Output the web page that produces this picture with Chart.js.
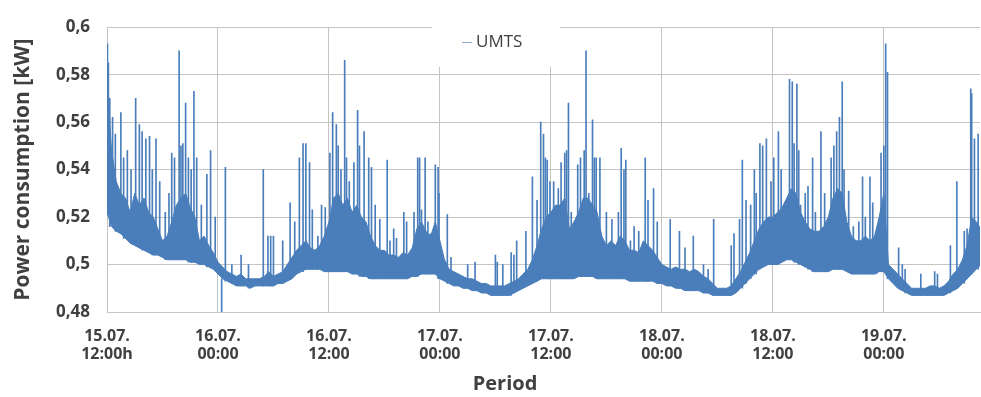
<!DOCTYPE html>
<html>
<head>
<meta charset="utf-8">
<script src="https://cdn.jsdelivr.net/npm/chart.js@4.4.1/dist/chart.umd.min.js"></script>
<style>
  body { margin: 0; background: #fff; }
  canvas { display: block; }
</style>
</head>
<body>
<canvas id="myChart" width="981" height="397"></canvas>
<script>
// tick positions in hours since 15.07. 12:00, with their two-line labels
var tickHours = [0, 12, 24, 36, 48, 60, 72, 84];
var tickDays = ['15.07.', '16.07.', '16.07.', '17.07.', '17.07.', '18.07.', '18.07.', '19.07.'];
var tickTimes = ['12:00h', '00:00', '12:00', '00:00', '12:00', '00:00', '12:00', '00:00'];
var yTicks = [0.48, 0.5, 0.52, 0.54, 0.56, 0.58, 0.6];

// UMTS load band in W, every half hour from 15.07. 12:00 (bottom and top of the dense trace)
var bandStep = 0.5;
var bandLowW = [
    522, 516, 514, 513, 511, 509, 508, 507, 506, 505, 504, 504, 503, 502, 502, 502, 502, 502, 501, 501, 500, 500, 499, 498,
    496, 494, 493, 492, 491, 491, 491, 490, 491, 491, 491, 491, 491, 492, 492, 493, 494, 496, 497, 498, 498, 498, 498, 497,
    497, 497, 497, 497, 497, 496, 496, 495, 495, 494, 494, 494, 494, 494, 494, 494, 494, 494, 495, 495, 496, 496, 496, 496,
    494, 493, 492, 491, 491, 490, 490, 489, 489, 488, 488, 487, 487, 487, 487, 487, 488, 489, 490, 491, 492, 493, 494, 494,
    494, 494, 494, 494, 494, 494, 495, 495, 495, 495, 494, 494, 494, 494, 494, 494, 494, 493, 493, 493, 493, 493, 493, 492,
    492, 491, 491, 490, 490, 489, 489, 489, 489, 488, 488, 487, 487, 487, 487, 487, 488, 490, 492, 494, 496, 498, 499, 500,
    500, 500, 501, 502, 502, 501, 500, 499, 498, 497, 497, 497, 497, 498, 498, 498, 497, 496, 496, 496, 496, 496, 496, 497,
    497, 494, 492, 490, 489, 488, 487, 487, 487, 487, 487, 487, 487, 487, 488, 489, 490, 492, 494, 496, 498, 500
];
var bandHighW = [
    575, 548, 535, 530, 528, 522, 530, 525, 528, 522, 520, 515, 510, 512, 518, 525, 528, 530, 524, 520, 510, 512, 508, 505,
    501, 499, 497, 496, 495, 496, 494, 494, 494, 494, 495, 497, 495, 496, 497, 500, 503, 506, 508, 510, 507, 506, 508, 512,
    518, 528, 530, 525, 528, 522, 525, 520, 518, 512, 508, 506, 506, 504, 504, 503, 505, 504, 507, 515, 518, 514, 512, 518,
    510, 502, 498, 497, 496, 495, 494, 494, 493, 492, 492, 491, 491, 491, 491, 492, 493, 494, 496, 498, 502, 508, 515, 520,
    522, 525, 525, 528, 515, 518, 522, 528, 528, 525, 522, 512, 508, 510, 508, 512, 510, 506, 506, 505, 510, 508, 506, 503,
    500, 499, 498, 499, 498, 498, 497, 498, 497, 495, 494, 492, 490, 490, 490, 491, 494, 497, 501, 505, 510, 515, 518, 520,
    520, 522, 524, 528, 532, 530, 522, 518, 515, 514, 514, 516, 520, 528, 532, 530, 518, 512, 510, 510, 512, 510, 512, 520,
    530, 500, 498, 496, 494, 492, 490, 490, 490, 490, 491, 491, 490, 491, 493, 496, 498, 502, 508, 520, 518, 515
];

// short spikes above the band: time in hours and peak in W
var spikeHours = [
    0.05, 0.15, 0.3, 0.6, 0.9, 1.5, 1.8, 2.2, 2.6, 3.1, 3.5, 3.8, 4.2, 4.6, 4.9, 5.3, 5.7, 6.3, 6.7, 7.0,
    7.3, 7.8, 8.0, 8.2, 8.5, 8.8, 9.1, 9.4, 9.7, 10.2, 10.8, 11.2, 11.7, 12.8, 13.5, 14.5, 15.3, 16.9, 17.4, 17.7,
    18.0, 19.0, 19.8, 20.3, 20.8, 21.2, 21.5, 21.9, 22.2, 22.8, 23.2, 23.6, 24.1, 24.4, 24.8, 25.0, 25.3, 25.7, 25.9, 26.2,
    26.7, 27.1, 27.3, 27.8, 28.3, 28.6, 29.0, 29.5, 30.3, 30.6, 31.0, 31.3, 32.1, 32.4, 33.2, 33.6, 33.8, 34.0, 34.4, 34.7,
    35.0, 35.5, 35.8, 35.9, 36.8, 37.2, 39.0, 39.8, 42.0, 42.2, 42.8, 43.7, 44.0, 44.3, 45.3, 46.0, 46.5, 46.9, 47.2, 47.4,
    47.6, 47.9, 48.3, 48.8, 49.1, 49.5, 49.7, 49.9, 50.2, 50.9, 51.2, 51.6, 51.8, 52.1, 52.5, 52.7, 52.9, 53.3, 54.0, 54.6,
    55.3, 55.6, 55.9, 56.1, 56.6, 57.0, 57.5, 58.2, 58.5, 59.1, 59.5, 60.9, 61.9, 62.5, 63.4, 64.5, 65.0, 65.6, 67.5, 67.8,
    68.4, 68.7, 69.1, 69.6, 70.0, 70.2, 70.6, 70.9, 71.3, 71.8, 72.1, 72.6, 72.9, 73.3, 73.8, 74.1, 74.3, 74.6, 74.8, 75.0,
    75.5, 75.8, 76.3, 76.6, 77.2, 77.6, 77.8, 78.3, 78.6, 78.9, 79.2, 79.5, 79.7, 80.2, 80.7, 81.3, 81.7, 82.0, 82.5, 82.8,
    83.2, 83.7, 84.0, 84.2, 84.4, 85.6, 86.0, 86.3, 88.0, 89.5, 89.8, 91.2, 91.9, 92.7, 93.0, 93.4, 93.5, 93.8, 94.2
];
var spikeW = [
    593, 585, 570, 562, 555, 564, 545, 548, 540, 570, 559, 556, 553, 554, 540, 553, 535, 522, 530, 547,
    545, 590, 550, 551, 568, 545, 540, 573, 545, 525, 538, 548, 520, 541, 500, 504, 500, 540, 512, 512,
    512, 510, 526, 518, 545, 551, 551, 543, 523, 512, 525, 524, 547, 564, 559, 550, 540, 586, 545, 535,
    543, 565, 550, 556, 545, 541, 525, 519, 544, 510, 515, 511, 522, 518, 522, 545, 545, 523, 545, 518,
    513, 542, 541, 530, 521, 503, 500, 501, 504, 501, 500, 505, 504, 510, 514, 537, 527, 560, 555, 545,
    544, 535, 535, 532, 543, 547, 548, 568, 522, 542, 545, 548, 590, 530, 561, 545, 545, 545, 522, 519,
    522, 549, 540, 544, 510, 516, 514, 545, 527, 532, 518, 519, 514, 507, 512, 500, 498, 519, 508, 513,
    519, 544, 527, 525, 540, 530, 551, 550, 553, 535, 545, 556, 540, 525, 578, 577, 551, 576, 548, 525,
    530, 533, 545, 522, 556, 530, 518, 545, 550, 556, 562, 577, 540, 531, 516, 518, 537, 520, 537, 526,
    514, 547, 550, 593, 581, 507, 500, 498, 496, 497, 496, 508, 535, 514, 515, 574, 572, 553, 555
];
// the one dip below the band, near 16.07. 00:30
var dipHours = [12.4];
var dipW = [480];

function kw(w) { return w / 1000; }
function bandIndex(h) { return Math.min(bandLowW.length - 1, Math.round(h / bandStep)); }

var lowPoints = bandLowW.map(function (w, i) { return { x: i * bandStep, y: kw(w) }; });
var highPoints = bandHighW.map(function (w, i) { return { x: i * bandStep, y: kw(w) }; });
var spikeBars = spikeHours.map(function (h, i) {
    return { x: h, y: [kw(bandLowW[bandIndex(h)]), kw(spikeW[i])] };
}).concat(dipHours.map(function (h, i) {
    return { x: h, y: [kw(dipW[i]), kw(bandLowW[bandIndex(h)])] };
}));

var lineColor = '#4a7ebb';
var textColor = '#404040';
var gridColor = '#c4c4c4';

// legend box inside the plot, and the "Period" caption
var extras = {
    id: 'extras',
    beforeDatasetsDraw: function (chart) {
        var ctx = chart.ctx;
        ctx.save();
        ctx.fillStyle = '#ffffff';
        ctx.fillRect(432, 21, 128, 46);
        ctx.restore();
    },
    afterDraw: function (chart) {
        var ctx = chart.ctx;
        ctx.save();
        ctx.strokeStyle = '#8eaad2';
        ctx.lineWidth = 1;
        ctx.beginPath();
        ctx.moveTo(462, 42.5);
        ctx.lineTo(472, 42.5);
        ctx.stroke();
        ctx.fillStyle = textColor;
        ctx.font = '17px "Open Sans"';
        ctx.textBaseline = 'middle';
        ctx.textAlign = 'left';
        ctx.fillText('UMTS', 476, 42);
        ctx.font = 'bold 20px "Open Sans"';
        ctx.textAlign = 'center';
        ctx.fillText('Period', 505, 384);
        ctx.restore();
    }
};

new Chart('myChart', {
    type: 'line',
    data: {
        datasets: [{
            label: 'UMTS',
            data: lowPoints,
            borderColor: lineColor,
            borderWidth: 1,
            pointRadius: 0,
            tension: 0
        }, {
            label: 'UMTS band',
            data: highPoints,
            borderColor: lineColor,
            backgroundColor: lineColor,
            borderWidth: 1,
            pointRadius: 0,
            tension: 0,
            fill: '-1'
        }, {
            // spikes drawn first, so the band fill covers their lower part
            type: 'bar',
            label: 'UMTS spikes',
            data: spikeBars,
            backgroundColor: lineColor,
            borderWidth: 0,
            barThickness: 1,
            grouped: false,
            order: 5
        }]
    },
    options: {
        responsive: false,
        animation: false,
        devicePixelRatio: 1,
        layout: { padding: { top: 20, right: 1, left: 0, bottom: 0 } },
        plugins: {
            legend: { display: false },
            tooltip: { enabled: false }
        },
        scales: {
            x: {
                type: 'linear',
                offset: false,
                min: 0,
                max: 94.4,
                afterBuildTicks: function (scale) {
                    scale.ticks = tickHours.map(function (h) { return { value: h }; });
                },
                afterFit: function (scale) { scale.height = 85; },
                grid: { color: gridColor, drawTicks: false, offset: false },
                border: { color: gridColor },
                ticks: {
                    padding: 16,
                    maxRotation: 0,
                    autoSkip: false,
                    color: textColor,
                    font: { family: 'Open Sans', size: 16, weight: 'bold', lineHeight: 1.1 },
                    callback: function (value) {
                        var i = tickHours.indexOf(value);
                        return i < 0 ? '' : [tickDays[i], tickTimes[i]];
                    }
                }
            },
            y: {
                min: 0.48,
                max: 0.6,
                afterBuildTicks: function (scale) {
                    scale.ticks = yTicks.map(function (v) { return { value: v }; });
                },
                afterFit: function (scale) { scale.width = 107; },
                grid: { color: gridColor, drawTicks: false },
                border: { color: gridColor },
                ticks: {
                    padding: 17,
                    color: textColor,
                    font: { family: 'Open Sans', size: 17, weight: 'bold' },
                    callback: function (value) {
                        return String(+value.toFixed(2)).replace('.', ',');
                    }
                },
                title: {
                    display: true,
                    text: 'Power consumption [kW]',
                    color: textColor,
                    padding: { top: 10, bottom: 0 },
                    font: { family: 'Open Sans', size: 21, weight: 'bold' }
                }
            }
        }
    },
    plugins: [extras]
});
</script>
</body>
</html>
